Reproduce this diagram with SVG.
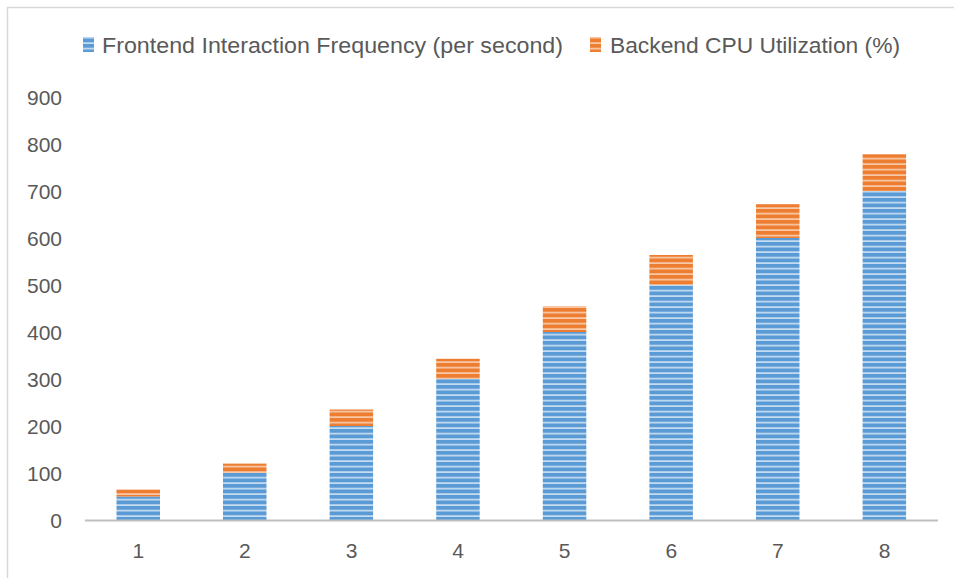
<svg xmlns="http://www.w3.org/2000/svg" width="954" height="578" viewBox="0 0 954 578">
<defs>
<pattern id="pb" patternUnits="userSpaceOnUse" width="10" height="5.5">
<rect width="10" height="5.5" fill="#5b9bd5"/>
<rect y="3.8" width="10" height="1.7" fill="#c5dcf1"/>
</pattern>
<pattern id="po" patternUnits="userSpaceOnUse" width="10" height="5.5">
<rect width="10" height="5.5" fill="#ed7d31"/>
<rect y="3.8" width="10" height="1.7" fill="#f8c9a8"/>
</pattern>
</defs>
<style>
.t{font-family:"Liberation Sans",Arial,sans-serif;fill:#595959}
.y{font-size:21px;text-anchor:end}
.x{font-size:21px;text-anchor:middle}
.lg{font-size:22px}
.b{fill:url(#pb)}
.o{fill:url(#po)}
</style>
<rect x="0" y="0" width="954" height="578" fill="#ffffff"/>
<rect x="7.5" y="7.5" width="1000" height="700" fill="none" stroke="#d9d9d9" stroke-width="1.5"/>
<g id="legend">
<rect x="83" y="37" width="11" height="15" class="b"/>
<text x="102" y="53" class="t lg" textLength="461" lengthAdjust="spacingAndGlyphs">Frontend Interaction Frequency (per second)</text>
<rect x="590" y="37" width="11" height="15" class="o"/>
<text x="610" y="53" class="t lg" textLength="290" lengthAdjust="spacingAndGlyphs">Backend CPU Utilization (%)</text>
</g>
<g id="y-axis">
<text x="62" y="528" class="t y">0</text>
<text x="62" y="481" class="t y">100</text>
<text x="62" y="434" class="t y">200</text>
<text x="62" y="387" class="t y">300</text>
<text x="62" y="340" class="t y">400</text>
<text x="62" y="293" class="t y">500</text>
<text x="62" y="246" class="t y">600</text>
<text x="62" y="199" class="t y">700</text>
<text x="62" y="152" class="t y">800</text>
<text x="62" y="105" class="t y">900</text>
</g>
<g id="bars">
<g id="bar1"><rect x="116.5" y="496.5" width="43.5" height="23.5" class="b"/><rect x="116.5" y="489.5" width="43.5" height="7" class="o"/></g>
<g id="bar2"><rect x="223" y="473" width="43.5" height="47" class="b"/><rect x="223" y="463.6" width="43.5" height="9.4" class="o"/></g>
<g id="bar3"><rect x="329.6" y="426" width="43.5" height="94" class="b"/><rect x="329.6" y="409.5" width="43.5" height="16.5" class="o"/></g>
<g id="bar4"><rect x="436.2" y="379" width="43.5" height="141" class="b"/><rect x="436.2" y="358.8" width="43.5" height="20.2" class="o"/></g>
<g id="bar5"><rect x="542.8" y="332" width="43.5" height="188" class="b"/><rect x="542.8" y="306.2" width="43.5" height="25.8" class="o"/></g>
<g id="bar6"><rect x="649.4" y="285" width="43.5" height="235" class="b"/><rect x="649.4" y="255" width="43.5" height="30" class="o"/></g>
<g id="bar7"><rect x="756" y="238" width="43.5" height="282" class="b"/><rect x="756" y="204.2" width="43.5" height="33.8" class="o"/></g>
<g id="bar8"><rect x="862.6" y="191" width="43.5" height="329" class="b"/><rect x="862.6" y="154.3" width="43.5" height="36.7" class="o"/></g>
</g>
<g id="x-axis">
<line x1="85" y1="520.5" x2="938" y2="520.5" stroke="#bfbfbf" stroke-width="2"/>
<text x="138.3" y="558" class="t x">1</text>
<text x="244.9" y="558" class="t x">2</text>
<text x="351.5" y="558" class="t x">3</text>
<text x="458.1" y="558" class="t x">4</text>
<text x="564.7" y="558" class="t x">5</text>
<text x="671.3" y="558" class="t x">6</text>
<text x="777.9" y="558" class="t x">7</text>
<text x="884.5" y="558" class="t x">8</text>
</g>
</svg>
